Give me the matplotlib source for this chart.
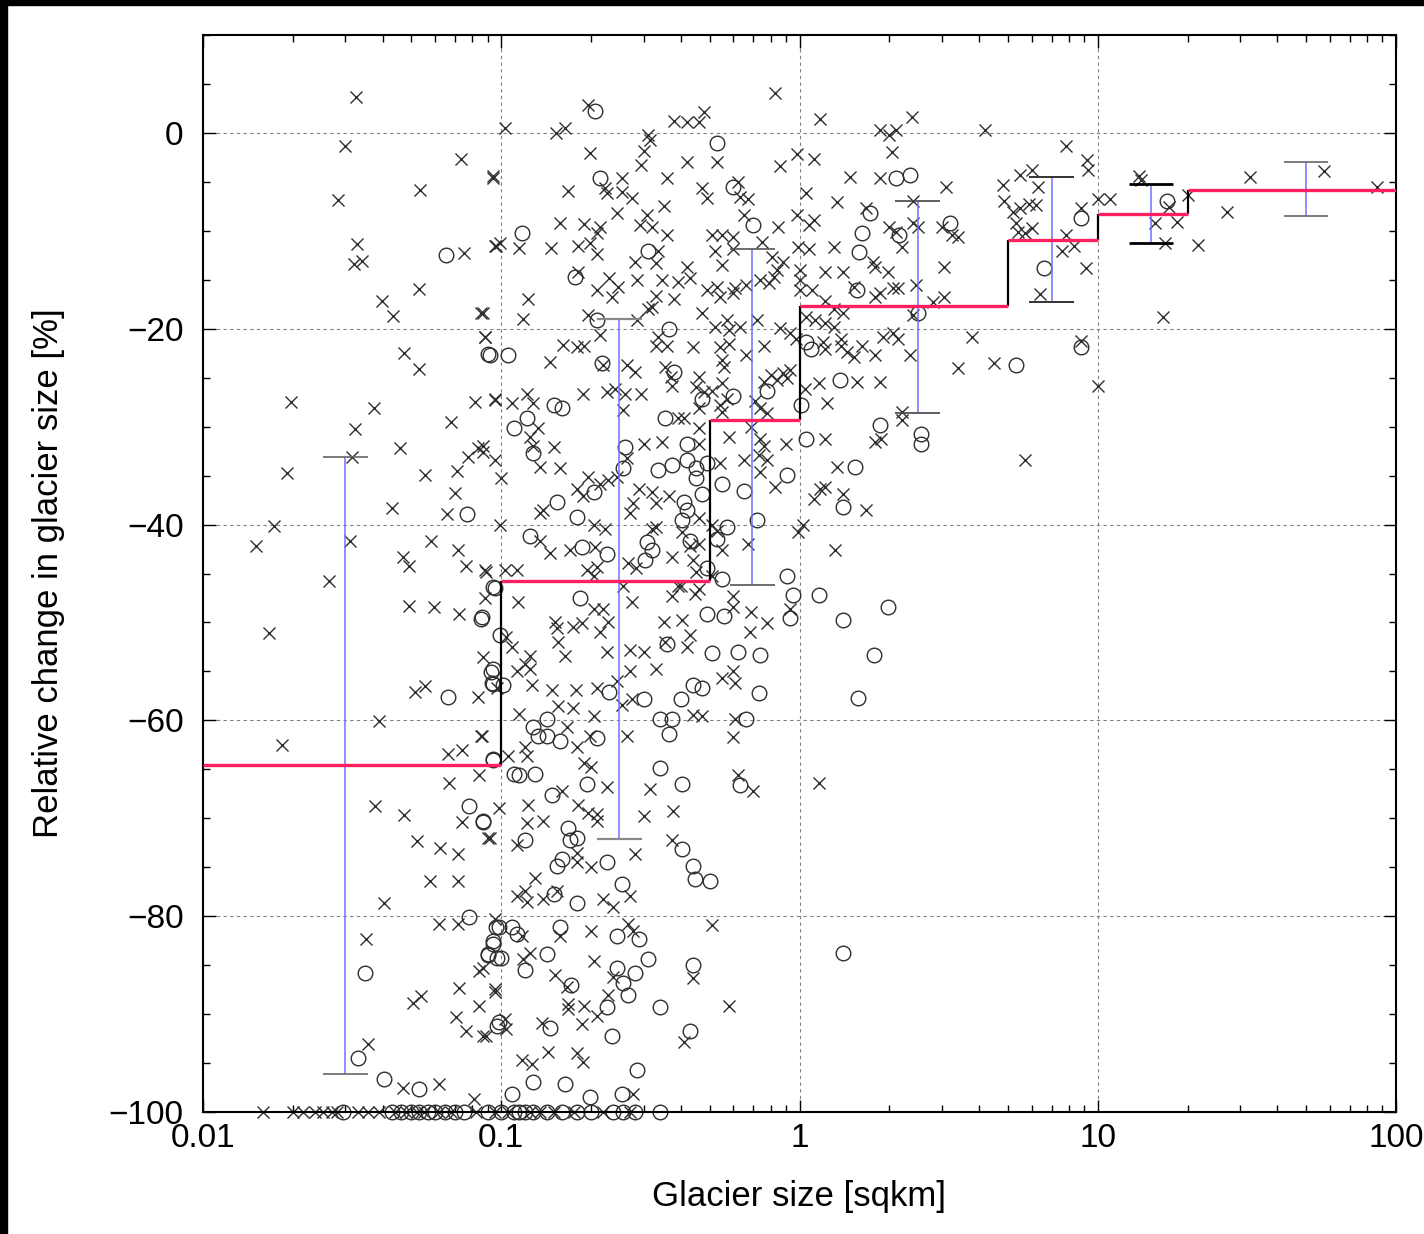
import numpy as np
import matplotlib
matplotlib.use("Agg")
import matplotlib.pyplot as plt
from matplotlib.ticker import MultipleLocator, LogLocator, FixedLocator, FixedFormatter, NullFormatter
from matplotlib.patches import Rectangle

plt.rcParams['font.family'] = ['Liberation Sans', 'DejaVu Sans']

# ---------------------------------------------------------------------------
# data (size in sqkm, change in %)
# ---------------------------------------------------------------------------

# glaciers marked with 'x'
cross_pts = [
    # 0.01 - 0.1 sqkm
    (0.0327, 3.7), (0.030, -1.3), (0.0735, -2.7), (0.094, -4.4), (0.0284, -6.9), (0.0532, -5.8),
    (0.0329, -11.3), (0.032, -13.4), (0.034, -13.1), (0.075, -12.3), (0.096, -11.5), (0.053, -15.9),
    (0.0398, -17.2), (0.0434, -18.7), (0.0858, -18.4), (0.088, -20.8), (0.0472, -22.5), (0.0528, -24.1),
    (0.0198, -27.5), (0.0374, -28.1), (0.0323, -30.2), (0.0316, -33.1), (0.0814, -27.5), (0.0955, -27.3),
    (0.068, -29.5), (0.0456, -32.2), (0.0774, -33.1), (0.0836, -32.2), (0.0867, -32.6), (0.0191, -34.7),
    (0.0557, -34.9), (0.071, -34.5), (0.070, -36.8), (0.066, -38.9), (0.043, -38.3), (0.0173, -40.1),
    (0.0151, -42.2), (0.0312, -41.7), (0.0583, -41.7), (0.0468, -43.3), (0.049, -44.2), (0.0715, -42.6),
    (0.076, -44.2), (0.0886, -44.8), (0.0264, -45.8), (0.0167, -51.1), (0.049, -48.3), (0.0593, -48.4),
    (0.072, -49.1), (0.0866, -53.5), (0.0514, -57.1), (0.0556, -56.5), (0.0835, -57.6), (0.0388, -60.1),
    (0.0184, -62.5), (0.0855, -61.6), (0.0662, -63.4), (0.074, -63.0), (0.0845, -65.6), (0.067, -66.4),
    (0.0378, -68.7), (0.0473, -69.7), (0.074, -70.4), (0.0906, -72.0), (0.052, -72.3), (0.0624, -73.0),
    (0.0716, -73.7), (0.0575, -76.4), (0.0716, -76.4), (0.0406, -78.7), (0.062, -80.8), (0.0716, -80.8),
    (0.0353, -82.3), (0.0845, -85.6), (0.0955, -87.7), (0.0506, -88.9), (0.0539, -88.2), (0.0721, -87.3),
    (0.0706, -90.3), (0.0845, -89.2), (0.0763, -91.7), (0.0886, -92.2), (0.0357, -93.1), (0.047, -97.5),
    (0.062, -97.1), (0.081, -98.7),
    # 0.1 - 0.4 sqkm, upper half
    (0.195, 2.9), (0.1026, 0.5), (0.153, 0.0), (0.164, 0.5), (0.31, -0.2), (0.315, -0.7), (0.38, 1.2),
    (0.198, -2.1), (0.30, -1.8), (0.295, -3.3), (0.094, -4.6), (0.254, -4.6), (0.222, -5.6),
    (0.226, -6.1), (0.254, -6.0), (0.275, -6.6), (0.36, -4.6), (0.167, -5.9), (0.245, -8.2), (0.157, -9.2),
    (0.189, -9.3), (0.214, -9.6), (0.209, -10.2), (0.308, -8.4), (0.292, -9.4), (0.32, -9.6), (0.35, -7.5),
    (0.36, -10.4), (0.099, -11.2), (0.095, -11.6), (0.115, -11.8), (0.147, -11.8), (0.181, -11.6),
    (0.198, -11.2), (0.21, -12.4), (0.335, -12.1), (0.28, -13.2), (0.33, -13.3), (0.181, -14.2),
    (0.23, -14.8), (0.246, -15.7), (0.286, -15.0), (0.345, -15.0), (0.39, -15.2), (0.21, -16.0),
    (0.235, -16.8), (0.33, -16.7), (0.38, -17.0), (0.123, -17.0), (0.118, -19.0), (0.196, -18.6),
    (0.286, -19.1), (0.32, -17.8), (0.31, -18.0), (0.087, -18.4), (0.088, -20.8), (0.214, -20.6),
    (0.335, -20.8), (0.36, -21.8), (0.33, -21.8), (0.161, -21.7), (0.179, -21.9), (0.19, -21.8),
    (0.146, -23.4), (0.22, -23.7), (0.264, -23.7), (0.28, -24.4), (0.355, -23.9), (0.37, -24.9),
    (0.375, -25.9), (0.095, -27.2), (0.109, -27.6), (0.122, -26.7), (0.128, -27.6), (0.188, -26.7),
    (0.226, -26.5), (0.24, -26.2), (0.26, -26.7), (0.295, -26.7), (0.255, -28.3), (0.39, -29.1),
    (0.133, -30.1), (0.125, -31.1), (0.128, -32.0), (0.087, -32.0), (0.095, -33.4), (0.15, -32.1),
    (0.157, -34.2), (0.135, -34.1), (0.1, -35.2), (0.264, -33.2), (0.30, -31.8), (0.345, -31.6),
    (0.196, -35.1), (0.214, -35.9), (0.228, -35.4), (0.245, -35.1), (0.18, -36.4), (0.188, -37.1),
    (0.138, -38.5), (0.135, -38.8), (0.29, -36.4), (0.32, -36.7), (0.33, -37.8), (0.276, -37.8),
    (0.27, -38.8), (0.366, -37.1), (0.099, -40.0), (0.135, -41.7), (0.146, -42.9), (0.17, -42.6),
    (0.206, -42.3), (0.222, -40.5), (0.204, -40.0), (0.33, -40.2), (0.32, -40.5), (0.266, -43.9),
    (0.283, -44.4), (0.194, -44.6), (0.209, -44.3), (0.204, -45.3), (0.088, -44.6), (0.103, -44.6),
    (0.113, -44.6), (0.375, -43.3), (0.256, -46.3), (0.39, -46.3), (0.405, -40.8), (0.43, -42.2),
    # 0.1 - 0.4 sqkm, lower half
    (0.088, -47.5), (0.114, -47.9), (0.204, -48.6), (0.22, -48.6), (0.152, -50.0), (0.154, -50.6),
    (0.174, -50.5), (0.186, -50.1), (0.214, -51.0), (0.228, -50.0), (0.275, -47.9), (0.35, -50.0),
    (0.405, -49.8), (0.375, -47.3), (0.40, -46.3), (0.445, -47.1), (0.104, -51.5), (0.109, -52.5),
    (0.155, -52.0), (0.164, -53.4), (0.226, -53.0), (0.125, -53.4), (0.12, -54.2), (0.113, -55.0),
    (0.125, -54.8), (0.097, -56.7), (0.127, -56.4), (0.148, -56.9), (0.178, -56.9), (0.209, -56.7),
    (0.245, -56.0), (0.254, -58.4), (0.27, -55.0), (0.33, -54.8), (0.275, -57.8), (0.27, -52.8),
    (0.30, -53.0), (0.355, -52.0), (0.42, -52.5), (0.43, -51.3), (0.44, -59.5), (0.264, -61.6),
    (0.155, -58.5), (0.174, -58.7), (0.204, -59.6), (0.115, -59.4), (0.086, -61.6), (0.166, -60.7),
    (0.18, -62.7), (0.198, -61.6), (0.12, -62.7), (0.122, -63.6), (0.105, -63.6), (0.19, -64.4),
    (0.20, -64.8), (0.226, -66.8), (0.315, -67.0), (0.16, -67.2), (0.098, -69.0), (0.123, -68.6),
    (0.138, -70.3), (0.122, -70.5), (0.181, -68.6), (0.196, -69.5), (0.209, -70.3), (0.209, -69.6),
    (0.30, -69.8), (0.377, -69.3), (0.092, -72.0), (0.113, -72.7), (0.375, -72.2), (0.28, -73.7),
    (0.20, -75.0), (0.18, -73.5), (0.18, -74.5), (0.13, -76.1), (0.113, -77.9), (0.12, -77.4),
    (0.122, -78.6), (0.138, -78.2), (0.154, -77.4), (0.22, -78.2), (0.237, -79.1), (0.27, -77.9),
    (0.095, -80.3), (0.117, -82.0), (0.118, -84.4), (0.125, -83.8), (0.157, -82.0), (0.20, -81.5),
    (0.266, -80.8), (0.276, -81.5), (0.204, -84.6), (0.237, -86.2), (0.152, -86.0), (0.166, -87.2),
    (0.087, -85.3), (0.095, -87.4), (0.228, -88.0), (0.21, -90.2), (0.167, -89.0), (0.167, -89.5),
    (0.19, -89.2), (0.103, -90.5), (0.104, -91.5), (0.087, -92.2), (0.137, -90.9), (0.186, -91.0),
    (0.41, -92.8), (0.144, -93.9), (0.117, -94.7), (0.127, -95.1), (0.18, -94.0), (0.188, -94.9),
    (0.276, -98.2),
    # 0.4 - 2 sqkm
    (0.83, 4.1), (0.42, 1.1), (0.46, 1.1), (0.48, 2.1), (1.17, 1.4), (1.86, 0.3), (1.99, -0.2), (2.1, 0.3),
    (0.42, -3.0), (0.53, -3.0), (0.86, -3.4), (0.98, -2.2), (1.12, -2.7), (1.48, -4.5), (1.86, -4.6),
    (2.04, -1.9), (0.47, -5.6), (0.49, -6.6), (0.62, -5.0), (0.63, -6.5), (0.67, -6.8), (1.05, -6.1),
    (1.34, -7.1), (0.65, -8.4), (0.85, -9.6), (0.98, -8.4), (1.12, -8.9), (1.08, -9.4), (1.67, -7.7),
    (1.99, -9.6), (2.1, -10.1), (0.51, -10.4), (0.55, -10.4), (0.60, -10.6), (0.52, -12.1), (0.60, -11.9),
    (0.75, -11.1), (0.81, -12.7), (0.88, -13.2), (0.84, -14.0), (0.82, -14.7), (0.79, -15.3), (0.74, -15.0),
    (0.99, -11.7), (1.08, -11.9), (1.77, -13.2), (1.79, -13.7), (1.22, -14.2), (1.4, -14.2), (1.31, -11.7),
    (0.42, -13.7), (0.43, -14.8), (0.55, -13.5), (0.49, -16.0), (0.53, -15.7), (0.54, -16.8), (0.60, -16.3),
    (0.61, -15.8), (0.66, -15.5), (1.0, -14.0), (1.0, -15.0), (1.0, -16.0), (1.1, -16.0), (1.22, -17.2),
    (1.52, -15.7), (1.79, -16.8), (1.86, -16.3), (2.06, -15.8), (1.98, -14.2), (1.31, -18.0), (1.4, -18.4),
    (0.47, -18.4), (0.52, -19.8), (0.57, -19.1), (0.58, -20.1), (0.63, -19.8), (0.72, -19.1), (0.86, -19.9),
    (0.93, -20.4), (0.97, -21.1), (1.05, -18.8), (1.13, -19.1), (1.22, -19.4), (1.31, -19.8), (1.38, -21.1),
    (1.2, -21.4), (1.22, -22.1), (1.38, -21.8), (1.44, -22.4), (1.52, -22.9), (1.62, -21.8), (1.79, -22.7),
    (1.91, -20.8), (2.06, -20.4), (2.14, -21.1), (0.44, -21.9), (0.54, -21.9), (0.58, -21.6), (0.55, -23.2),
    (0.56, -23.9), (0.66, -22.7), (0.76, -21.8), (0.80, -24.7), (0.84, -25.2), (0.88, -24.5), (0.93, -24.2),
    (0.91, -25.0), (0.76, -25.4), (1.16, -25.5), (1.04, -26.2), (1.24, -27.6), (1.56, -25.4), (1.86, -25.4),
    (0.46, -24.9), (0.45, -26.0), (0.48, -26.5), (0.51, -26.4), (0.55, -25.5), (0.57, -27.2), (0.54, -27.8),
    (0.46, -28.1), (0.41, -29.1), (0.55, -28.5), (0.71, -27.4), (0.78, -28.6), (0.74, -28.1), (0.46, -30.1),
    (0.46, -31.8), (0.58, -31.1), (0.69, -30.0), (0.74, -31.3), (0.76, -32.0), (0.73, -32.9), (0.78, -33.4),
    (0.65, -33.4), (0.54, -33.7), (0.9, -31.8), (1.22, -31.3), (1.79, -31.6), (1.88, -31.3), (1.34, -34.1),
    (0.74, -34.6), (0.83, -36.2), (1.17, -36.4), (1.12, -37.4), (1.22, -36.2), (1.4, -36.9), (1.67, -38.5),
    (0.46, -39.3), (0.51, -40.0), (0.53, -40.7), (0.55, -42.6), (0.46, -42.0), (0.44, -43.6), (0.45, -44.8),
    (0.67, -42.0), (1.03, -40.0), (0.99, -40.8), (1.32, -42.6), (0.51, -45.3), (0.46, -46.6),
    (0.6, -47.3), (0.6, -48.4), (0.69, -48.9), (0.78, -50.1), (0.93, -48.6), (0.68, -51.0), (0.55, -55.7),
    (0.6, -55.0), (0.61, -56.2), (0.47, -59.6), (0.61, -59.9), (0.6, -61.7), (0.62, -65.6), (0.7, -67.2),
    (1.16, -66.4), (0.51, -80.9), (0.44, -86.3), (0.58, -89.2),
    # above 2 sqkm
    (2.39, 1.6), (4.2, 0.3), (7.8, -1.3), (9.2, -2.8), (9.3, -3.8), (6.0, -3.8), (5.5, -4.3), (6.3, -5.5),
    (4.8, -5.3), (4.85, -7.0), (5.2, -8.1), (5.5, -7.7), (5.9, -7.3), (6.2, -7.4), (5.3, -9.2), (6.0, -9.7),
    (5.7, -10.2), (5.4, -10.1), (3.1, -5.5), (2.4, -7.0), (2.4, -9.2), (2.5, -9.6), (3.0, -9.6),
    (3.25, -10.4), (3.4, -10.6), (2.2, -11.7), (3.05, -13.7), (2.14, -15.8), (2.45, -15.5), (2.8, -17.3),
    (3.05, -16.8), (2.4, -18.6), (7.8, -10.4), (7.6, -12.1), (8.3, -11.6), (6.4, -16.5), (9.1, -13.8),
    (8.8, -7.7), (10.0, -6.8), (11.0, -6.8), (13.7, -4.4), (14.0, -4.8), (17.4, -7.6), (15.6, -9.2),
    (18.5, -9.1), (16.8, -11.2), (21.6, -11.4), (20.0, -6.3), (27.2, -8.1), (32.4, -4.5), (57.5, -3.9),
    (86.6, -5.5), (16.6, -18.8), (3.8, -20.8), (2.35, -22.7), (3.4, -24.0), (4.5, -23.5), (8.8, -21.3),
    (2.2, -28.5), (2.2, -29.3), (5.7, -33.4), (10.0, -25.9),
]

# glaciers marked with 'o'
circle_pts = [
    (0.0655, -12.5), (0.0906, -22.6), (0.0767, -38.9), (0.0852, -49.6), (0.0926, -55.1), (0.094, -56.3),
    (0.0662, -57.6), (0.094, -64.0), (0.078, -68.7), (0.0866, -70.4), (0.078, -80.1), (0.035, -85.8),
    (0.096, -81.1), (0.094, -82.8), (0.090, -84.0), (0.097, -84.3), (0.097, -91.2), (0.0332, -94.5),
    (0.0403, -96.6), (0.053, -97.7),
    (0.207, 2.2), (0.214, -4.6), (0.117, -10.2), (0.31, -12.1), (0.177, -14.7), (0.209, -19.1),
    (0.366, -20.0), (0.092, -22.7), (0.105, -22.7), (0.217, -23.5), (0.38, -24.4), (0.15, -27.8),
    (0.16, -28.1), (0.355, -29.1), (0.122, -29.1), (0.11, -30.1), (0.128, -32.7), (0.26, -32.1),
    (0.256, -34.2), (0.374, -33.9), (0.335, -34.4), (0.204, -36.7), (0.154, -37.7), (0.41, -37.7),
    (0.42, -38.5), (0.405, -39.5), (0.18, -39.2), (0.125, -41.2), (0.186, -42.3), (0.226, -43.0),
    (0.308, -41.8), (0.32, -42.6), (0.303, -43.6), (0.094, -46.4),
    (0.095, -46.5), (0.086, -49.4), (0.184, -47.5), (0.099, -51.3), (0.094, -54.8), (0.093, -56.2),
    (0.101, -56.4), (0.23, -57.1), (0.30, -57.8), (0.36, -52.2), (0.40, -57.8), (0.44, -56.4),
    (0.34, -59.9), (0.375, -59.9), (0.365, -61.4), (0.142, -59.9), (0.128, -60.7), (0.133, -61.6),
    (0.142, -61.6), (0.157, -62.1), (0.21, -61.8), (0.094, -63.9), (0.11, -65.5), (0.115, -65.6),
    (0.13, -65.5), (0.194, -66.5), (0.34, -64.9), (0.405, -66.5), (0.148, -67.6), (0.087, -70.3),
    (0.12, -72.2), (0.167, -71.0), (0.17, -72.2), (0.18, -72.0), (0.405, -73.1), (0.44, -74.9),
    (0.445, -76.2), (0.226, -74.5), (0.16, -74.2), (0.154, -74.9), (0.15, -77.7), (0.18, -78.7),
    (0.254, -76.7), (0.098, -81.1), (0.109, -81.1), (0.113, -81.8), (0.094, -82.5), (0.09, -83.9),
    (0.1, -84.3), (0.12, -85.5), (0.142, -83.9), (0.157, -81.1), (0.245, -82.0), (0.29, -82.3),
    (0.245, -85.3), (0.256, -86.8), (0.28, -85.8), (0.31, -84.4), (0.266, -88.0), (0.172, -87.0),
    (0.226, -89.3), (0.34, -89.3), (0.098, -90.8), (0.146, -91.4), (0.235, -92.2), (0.43, -91.7),
    (0.286, -95.7), (0.128, -96.9), (0.164, -97.1), (0.109, -98.2), (0.198, -98.5), (0.254, -98.2),
    (0.53, -1.0), (2.1, -4.6), (0.60, -5.5), (0.70, -9.4), (1.72, -8.2), (1.62, -10.2), (1.58, -12.2),
    (1.56, -16.0), (1.05, -21.4), (1.09, -22.1), (0.78, -26.4), (1.37, -25.2), (1.01, -27.8),
    (0.47, -27.2), (0.60, -26.9), (0.42, -31.8), (1.05, -31.3), (1.86, -29.8), (1.53, -34.1),
    (0.42, -33.4), (0.49, -33.7), (0.45, -34.2), (0.45, -35.2), (0.55, -35.9), (0.65, -36.6),
    (0.47, -36.9), (0.91, -34.9), (1.4, -38.2), (0.57, -40.2), (0.53, -41.5), (0.49, -44.4),
    (0.43, -41.7), (0.72, -39.5), (0.91, -45.3), (0.55, -45.6),
    (0.95, -47.2), (1.16, -47.2), (1.4, -49.7), (1.98, -48.4), (0.49, -49.1), (0.56, -49.3),
    (0.93, -49.5), (0.51, -53.1), (0.62, -53.0), (0.74, -53.3), (1.78, -53.3), (0.47, -56.7),
    (0.73, -57.2), (1.57, -57.7), (0.66, -59.9), (0.63, -66.6), (0.5, -76.4), (1.4, -83.8), (0.44, -85.0),
    (2.35, -4.3), (3.2, -9.2), (2.15, -10.4), (6.6, -13.8), (8.8, -8.7), (17.1, -7.0), (2.5, -18.4),
    (5.3, -23.7), (8.8, -21.9), (2.55, -30.8), (2.55, -31.8),
]

# glaciers that vanished completely (-100 %)
gone_cross_size = [0.0159, 0.020, 0.0217, 0.0237, 0.0253, 0.027, 0.0281, 0.033, 0.0358, 0.039,
                   0.044, 0.048, 0.052, 0.055, 0.062, 0.068, 0.082, 0.095, 0.105, 0.125, 0.135,
                   0.15, 0.175, 0.22, 0.27]
gone_circle_size = [0.0295, 0.043, 0.046, 0.050, 0.053, 0.057, 0.060, 0.065, 0.070, 0.075, 0.090,
                    0.100, 0.110, 0.115, 0.120, 0.128, 0.142, 0.160, 0.180, 0.200, 0.237, 0.255,
                    0.280, 0.340]

# size classes: mean change and spread
bin_edges = [0.01, 0.1, 0.5, 1, 5, 10, 20, 100]
bin_mean = [-64.6, -45.8, -29.3, -17.7, -10.9, -8.3, -5.8]
err_x = [0.030, 0.249, 0.695, 2.49, 7.0, 15.1, 49.9]
err_hi = [-33.1, -19.0, -11.9, -7.0, -4.5, -5.2, -3.0]
err_lo = [-96.1, -72.1, -46.2, -28.6, -17.3, -11.2, -8.5]

# ---------------------------------------------------------------------------

W, H = 1424, 1234
fig = plt.figure(figsize=(W / 100, H / 100), dpi=100)
fig.patches.append(Rectangle((0, 1 - 5 / H), 1, 5 / H, transform=fig.transFigure,
                             color='black', zorder=-1))
fig.patches.append(Rectangle((0, 0), 7 / W, 1, transform=fig.transFigure,
                             color='black', zorder=-1))

ax = fig.add_axes([203 / W, 122 / H, 1193 / W, 1077 / H])
ax.set_xscale('log')
ax.set_xlim(0.01, 100)
ax.set_ylim(-100, 10)

pt_color = '#2e2e2e'
cx, cy = zip(*cross_pts)
ox, oy = zip(*circle_pts)
ax.plot(cx, cy, ls='none', marker='x', ms=8, mew=1.0, color=pt_color, zorder=2)
ax.plot(ox, oy, ls='none', marker='o', ms=10.5, mew=1.0, mfc='none', mec=pt_color, zorder=2)
ax.plot(gone_cross_size, [-100] * len(gone_cross_size), ls='none', marker='x', ms=8, mew=1.0,
        color=pt_color, zorder=2, clip_on=False)
ax.plot(gone_circle_size, [-100] * len(gone_circle_size), ls='none', marker='o', ms=10.5, mew=1.0,
        mfc='none', mec=pt_color, zorder=2, clip_on=False)

# error bars
err_x = np.array(err_x)
ax.vlines(err_x, err_lo, err_hi, color='#7070ff', lw=1.1, zorder=4)
cap_colors = ['#666666', '#888888', '#555555', '#444444', '#333333', '#000000', '#666666']
cap_lw = [1.2, 1.6, 1.2, 1.2, 1.4, 2.0, 1.2]
for x, lo, hi, c, lw in zip(err_x, err_lo, err_hi, cap_colors, cap_lw):
    ax.hlines([lo, hi], x * 10 ** -0.075, x * 10 ** 0.075, color=c, lw=lw, zorder=4)

# class means as a step line
ax.vlines(bin_edges[1:-1], bin_mean[:-1], bin_mean[1:], color='black', lw=1.6, zorder=5)
ax.hlines(bin_mean, bin_edges[:-1], bin_edges[1:], color='#ff2060', lw=2.4, zorder=6)

# axes styling
ax.xaxis.set_major_locator(FixedLocator([0.01, 0.1, 1, 10, 100]))
ax.xaxis.set_major_formatter(FixedFormatter(['0.01', '0.1', '1', '10', '100']))
ax.xaxis.set_minor_locator(LogLocator(base=10, subs=np.arange(2, 10), numticks=20))
ax.xaxis.set_minor_formatter(NullFormatter())
ax.yaxis.set_major_locator(FixedLocator([-100, -80, -60, -40, -20, 0]))
ax.yaxis.set_minor_locator(MultipleLocator(5))

ax.tick_params(which='both', direction='in', top=True, right=True, width=1, colors='black')
ax.tick_params(which='major', length=9)
ax.tick_params(which='minor', length=5)
ax.tick_params(axis='x', labelsize=24, pad=8)
ax.tick_params(axis='y', labelsize=24, pad=14)
for sp in ax.spines.values():
    sp.set_linewidth(1.5)

ax.grid(True, which='major', color='#808080', ls=(0, (3, 3)), lw=0.8)
ax.set_axisbelow(True)

ax.set_xlabel('Glacier size [sqkm]', fontsize=25)
ax.set_ylabel('Relative change in glacier size [%]', fontsize=25)
ax.xaxis.set_label_coords(0.5, -0.063)
ax.yaxis.set_label_coords(-0.116, 0.5)

fig.savefig('out.png', dpi=100)
